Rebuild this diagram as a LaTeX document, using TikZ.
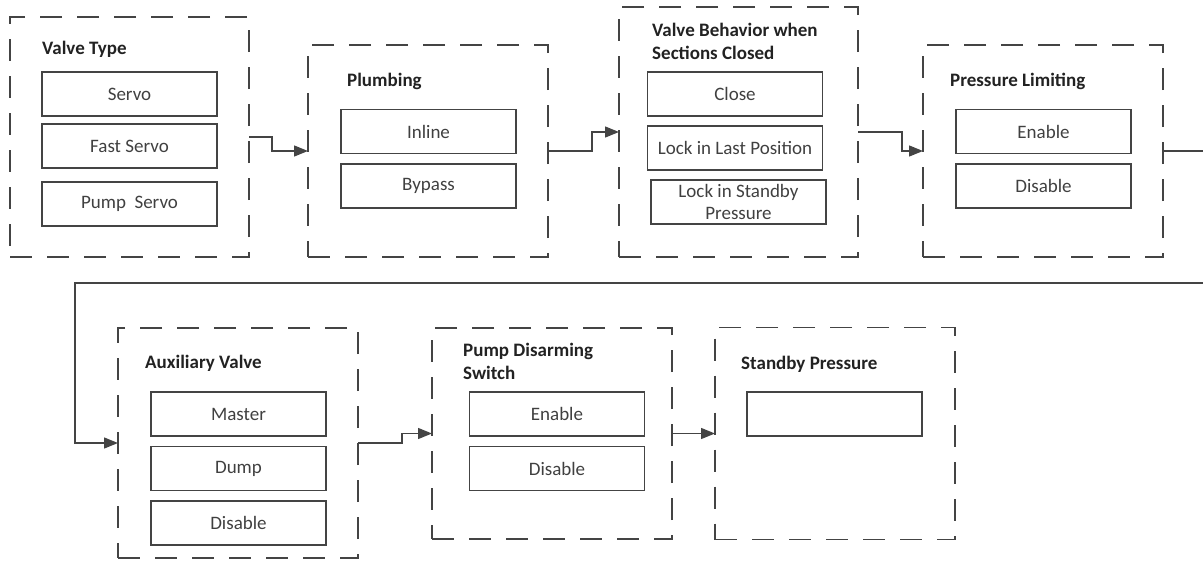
\documentclass[tikz,border=0pt]{standalone}
\usepackage{fontspec}
\setmainfont{Carlito}
\usetikzlibrary{arrows.meta}
\definecolor{linegray}{RGB}{68,68,68}
\definecolor{textgray}{RGB}{64,64,64}
\definecolor{titlegray}{RGB}{34,34,34}

\begin{document}
\begin{tikzpicture}[x=1pt, y=-1pt,
    group/.style={draw=linegray, line width=1.4pt, dash pattern=on 22pt off 15pt, inner sep=0pt, outer sep=0pt},
    option/.style={draw=linegray, line width=1.4pt, minimum width=175pt, minimum height=44pt, inner sep=0pt, outer sep=0pt,
        align=center, text=textgray, font=\fontsize{19}{22}\selectfont},
    heading/.style={anchor=base west, align=left, inner sep=0pt, text=titlegray, font=\fontsize{19}{22.5}\selectfont\bfseries},
    link/.style={draw=linegray, line width=1.4pt, -{Triangle[length=14pt,width=11pt]}}]
    \useasboundingbox (0,0) rectangle (1203,560);
    % top row
    \node[group, minimum width=239pt, minimum height=240pt] (g1) at (129.5,137) {};
    \node[heading] (t1) at (42,54) {Valve Type};
    \node[option] (servo) at (129.5,94) {Servo};
    \node[option] (fastservo) at (129.5,146) {Fast Servo};
    \node[option] (pumpservo) at (129.5,204) {Pump~~Servo};

    \node[group, minimum width=240pt, minimum height=212pt] (g2) at (428,151) {};
    \node[heading] (t2) at (347,86) {Plumbing};
    \node[option] (inline) at (428.5,131.5) {Inline};
    \node[option] (bypass) at (428.5,186) {Bypass};

    \node[group, minimum width=239pt, minimum height=250pt] (g3) at (738.5,132) {};
    \node[heading] (t3) at (652,59) {Valve Behavior when\\Sections Closed};
    \node[option] (close) at (735,94) {Close};
    \node[option] (lastpos) at (735,148) {Lock in Last Position};
    \node[option] (standbylock) at (738.5,202) {Lock in Standby\\Pressure};

    \node[group, minimum width=240pt, minimum height=212pt] (g4) at (1043,151) {};
    \node[heading] (t4) at (950,86) {Pressure Limiting};
    \node[option] (plenable) at (1043.5,131.5) {Enable};
    \node[option] (pldisable) at (1043.5,186) {Disable};

    % bottom row
    \node[group, minimum width=240pt, minimum height=230pt] (g5) at (238,443) {};
    \node[heading] (t5) at (145,368) {Auxiliary Valve};
    \node[option] (master) at (238.5,414) {Master};
    \node[option] (dump) at (238.5,468.5) {Dump};
    \node[option] (auxdisable) at (238.5,523) {Disable};

    \node[group, minimum width=240pt, minimum height=211pt] (g6) at (552,433.5) {};
    \node[heading] (t6) at (463,379) {Pump Disarming\\Switch};
    \node[option] (pdenable) at (557,414) {Enable};
    \node[option] (pddisable) at (557,468.5) {Disable};

    \node[group, minimum width=240pt, minimum height=212pt] (g7) at (835,433.5) {};
    \node[heading] (t7) at (741,369) {Standby Pressure};
    \node[option] (spvalue) at (834.5,414) {};

    % connectors
    \coordinate (wrapR) at (1208,283);
    \coordinate (wrapL) at (75,283);
    \draw[link] (g1.east) -- ++(23,0) |- (g2.west);
    \draw[link] (g2.east) -- ++(44,0) |- (g3.west);
    \draw[link] (g3.east) -- ++(44,0) |- (g4.west);
    \draw[link] (g4.east) -| (wrapR) -- (wrapL) |- (g5.west);
    \draw[link] (g5.east) -- ++(44,0) |- (g6.west);
    \draw[link] (g6.east) -- (g7.west);
\end{tikzpicture}
\end{document}
